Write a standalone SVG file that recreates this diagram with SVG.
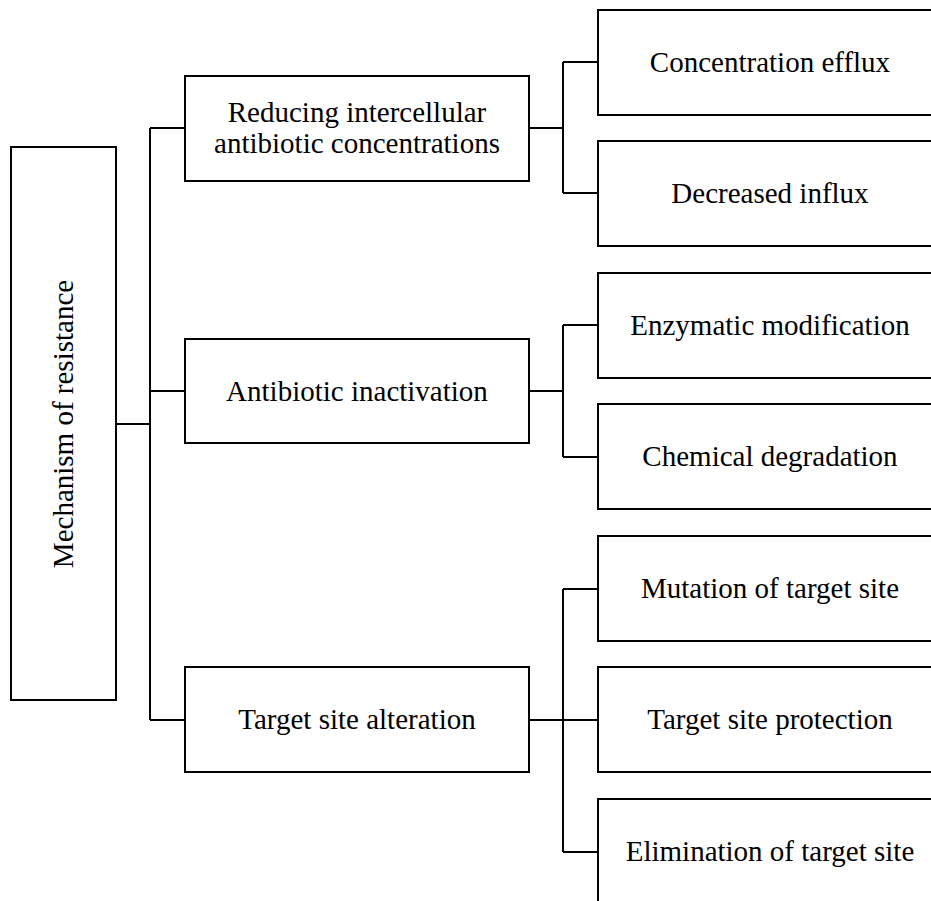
<svg xmlns="http://www.w3.org/2000/svg" width="931" height="901" viewBox="0 0 931 901">
<style>
.box{fill:#fff;stroke:#000;stroke-width:2}
.ln{fill:none;stroke:#000;stroke-width:2}
text{font-family:"Liberation Serif","Times New Roman",serif;font-size:29px;fill:#000;text-anchor:middle}
</style>
<rect width="931" height="901" fill="#fff"/>
<g id="connectors">
<path class="ln" d="M116,424 H150 M150,128 V720 M150,128 H185 M150,391 H185 M150,720 H185"/>
<path class="ln" d="M529,128 H563 M563,62 V193 M563,62 H598 M563,193 H598"/>
<path class="ln" d="M529,391 H563 M563,325 V457 M563,325 H598 M563,457 H598"/>
<path class="ln" d="M529,720 H598 M563,589 V852 M563,589 H598 M563,852 H598"/>
</g>
<g id="root"><rect class="box" x="11" y="147" width="105" height="553"/><text transform="translate(73,424) rotate(-90)">Mechanism of resistance</text></g>
<g id="reducing"><rect class="box" x="185" y="76" width="344" height="105"/><text x="357" y="122">Reducing intercellular</text><text x="357" y="153">antibiotic concentrations</text></g>
<g id="inactivation"><rect class="box" x="185" y="339" width="344" height="104"/><text x="357" y="401">Antibiotic inactivation</text></g>
<g id="alteration"><rect class="box" x="185" y="667" width="344" height="105"/><text x="357" y="729">Target site alteration</text></g>
<g id="efflux"><rect class="box" x="598" y="10" width="344" height="105"/><text x="770" y="72">Concentration efflux</text></g>
<g id="influx"><rect class="box" x="598" y="141" width="344" height="105"/><text x="770" y="203">Decreased influx</text></g>
<g id="enzymatic"><rect class="box" x="598" y="273" width="344" height="105"/><text x="770" y="335">Enzymatic modification</text></g>
<g id="chemical"><rect class="box" x="598" y="404" width="344" height="105"/><text x="770" y="466">Chemical degradation</text></g>
<g id="mutation"><rect class="box" x="598" y="536" width="344" height="105"/><text x="770" y="598">Mutation of target site</text></g>
<g id="protection"><rect class="box" x="598" y="667" width="344" height="105"/><text x="770" y="729">Target site protection</text></g>
<g id="elimination"><rect class="box" x="598" y="799" width="344" height="105"/><text x="770" y="861">Elimination of target site</text></g>
</svg>
